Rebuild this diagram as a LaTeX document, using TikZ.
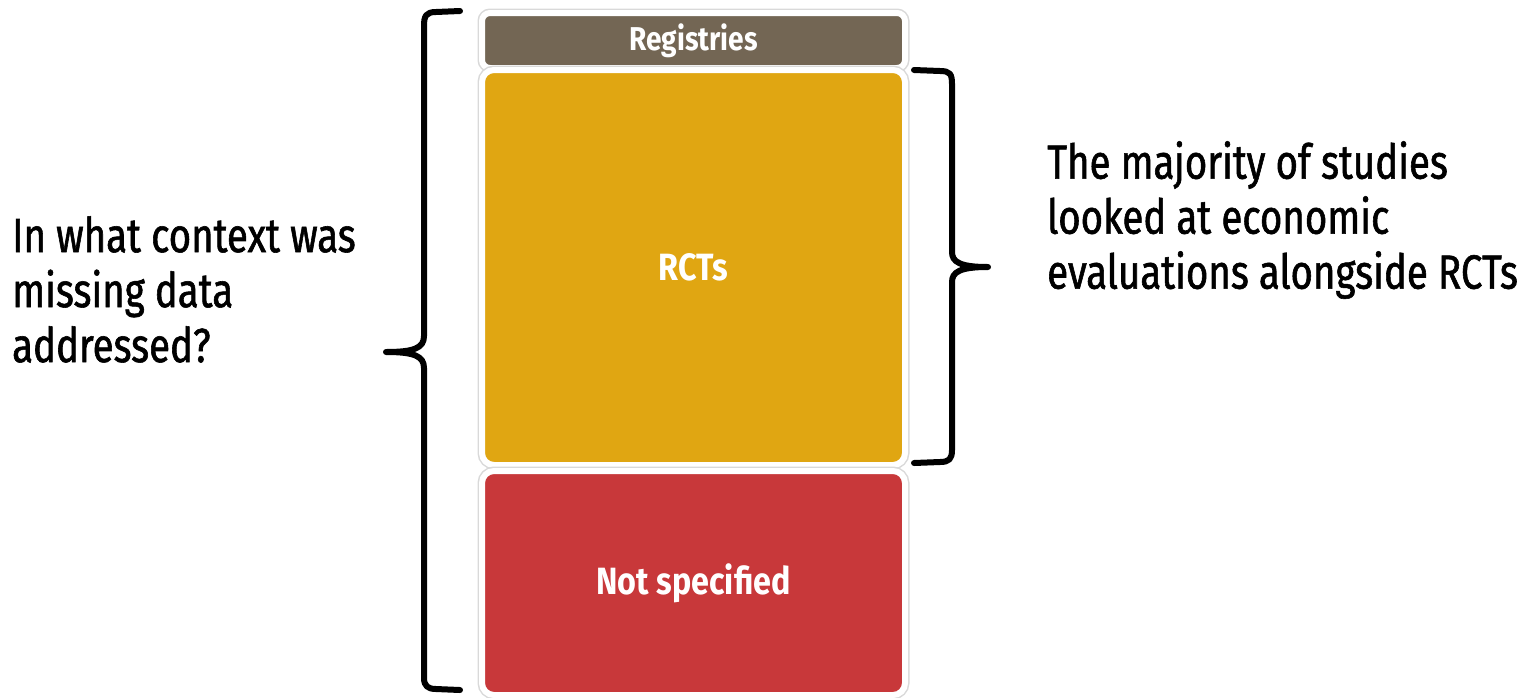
\documentclass[tikz,border=0pt]{standalone}
\usepackage{fontspec}
\setmainfont{Fira Sans}[FakeStretch=0.80, FakeBold=1.2]
\newfontfamily\boxfont{Fira Sans}[FakeStretch=0.85]
\definecolor{regc}{HTML}{736654}
\definecolor{rctc}{HTML}{E0A612}
\definecolor{nspc}{HTML}{C8383A}
\tikzset{
  box/.style={rounded corners=12pt, draw=white, line width=6pt, text=white,
    font=\boxfont\bfseries\fontsize{38}{42}\selectfont,
    preaction={draw=black!15, line width=9pt}},
  brace/.style={line width=6pt, line cap=round, line join=round},
  lbl/.style={inner sep=0pt, align=left, font=\fontsize{48}{55}\selectfont}
}
\begin{document}
\begin{tikzpicture}[x=1pt,y=-1pt]
\useasboundingbox (0,0) rectangle (1530,697);
% boxes
\node[box, fill=regc, rounded corners=8pt, minimum width=423pt, minimum height=55pt,
  font=\boxfont\bfseries\fontsize{33}{36}\selectfont] (reg) at (693.5,40.5) {Registries};
\node[box, fill=rctc, minimum width=423pt, minimum height=395pt] (rct) at (693.5,267.5) {RCTs};
\node[box, fill=nspc, minimum width=423pt, minimum height=224pt] (nsp) at (693.5,583) {Not specified};
% left brace
\coordinate (lt) at (460,11);
\coordinate (lm) at (386,352);
\coordinate (lb) at (460,690);
\draw[brace] (lt) -- (436,12) .. controls (426,12) and (424,16) .. (424,26)
  -- (424,336) .. controls (424,348) and (414,352) .. (lm)
  .. controls (414,352) and (424,356) .. (424,368)
  -- (424,678) .. controls (424,686) and (428,689) .. (436,689) -- (lb);
% right brace
\coordinate (rt) at (914,70);
\coordinate (rm) at (988,267);
\coordinate (rb) at (914,463);
\draw[brace] (rt) -- (940,71) .. controls (950,71) and (952,74) .. (952,84)
  -- (952,252) .. controls (952,262) and (960,267) .. (rm)
  .. controls (960,267) and (952,272) .. (952,282)
  -- (952,450) .. controls (952,459) and (949,462) .. (940,462) -- (rb);
% labels
\node[lbl, anchor=north west] (q) at (12,216) {In what context was\\missing data\\addressed?};
\node[lbl, anchor=north west] (a) at (1047,141) {The majority of studies\\looked at economic\\evaluations alongside RCTs};
\end{tikzpicture}
\end{document}
